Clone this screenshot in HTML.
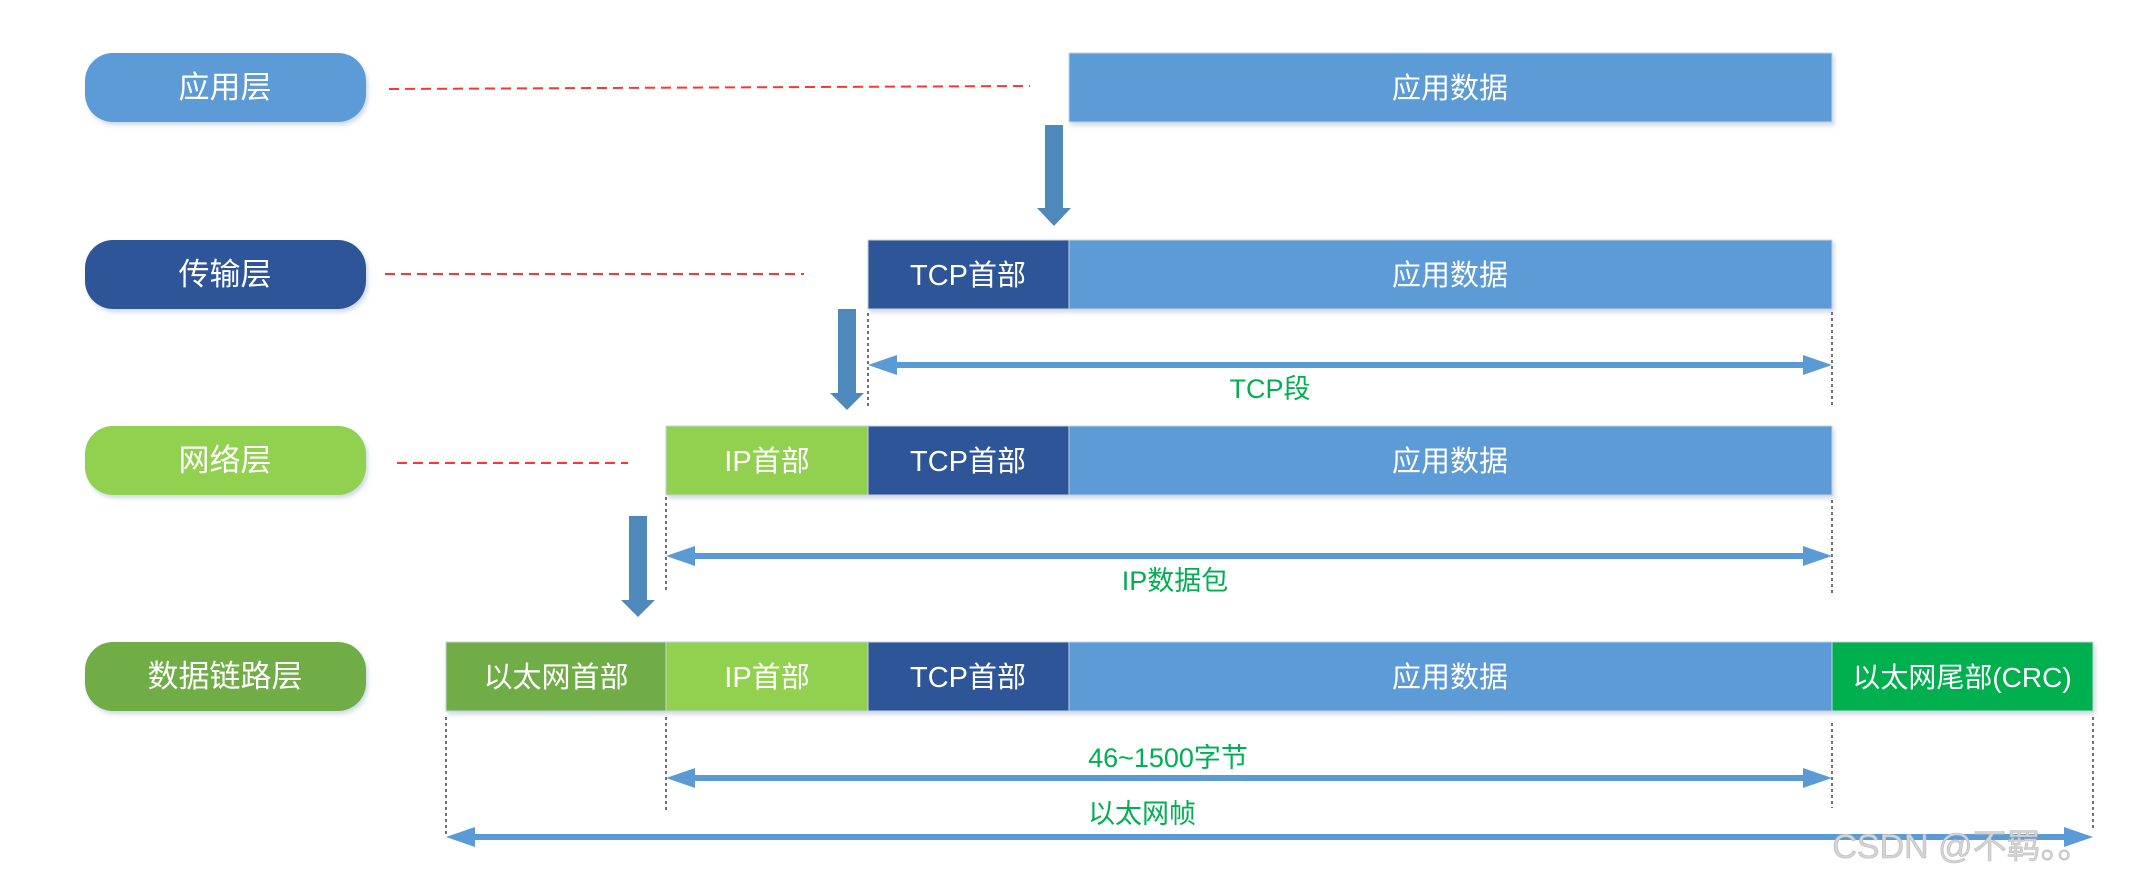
<!DOCTYPE html>
<html><head><meta charset="utf-8"><style>
html,body{margin:0;padding:0;background:#fff;}
svg{display:block;}
text{font-family:"Liberation Sans","Noto Sans CJK SC",sans-serif;}
</style></head><body>
<svg width="2144" height="879" viewBox="0 0 2144 879" xmlns="http://www.w3.org/2000/svg">
<defs>
<filter id="sh" x="-5%" y="-10%" width="110%" height="130%"><feDropShadow dx="2" dy="3" stdDeviation="2" flood-color="#9fb3cc" flood-opacity="0.5"/></filter>
</defs>
<!-- pills -->
<g filter="url(#sh)">
<rect x="85" y="53" width="281" height="69" rx="28" fill="#5b9bd5"/>
<rect x="85" y="240" width="281" height="69" rx="28" fill="#2f5597"/>
<rect x="85" y="426" width="281" height="69" rx="28" fill="#92d050"/>
<rect x="85" y="642" width="281" height="69" rx="28" fill="#70ad47"/>
</g>
<g fill="#fff" font-size="31" text-anchor="middle">
<text x="225" y="98">应用层</text>
<text x="225" y="285">传输层</text>
<text x="225" y="471">网络层</text>
<text x="225" y="687">数据链路层</text>
</g>
<!-- red dashed -->
<g stroke="#ff3333" stroke-width="2" stroke-dasharray="10,6">
<line x1="389" y1="89" x2="1030" y2="86"/>
<line x1="385" y1="274" x2="804" y2="274"/>
<line x1="397" y1="463" x2="628" y2="463"/>
</g>
<!-- boxes -->
<g filter="url(#sh)" stroke="#c9d3df" stroke-width="1">
<rect x="1069" y="53" width="763" height="69" fill="#5b9bd5"/>
<rect x="868" y="240" width="201" height="69" fill="#2f5597"/>
<rect x="1069" y="240" width="763" height="69" fill="#5b9bd5"/>
<rect x="666" y="426" width="202" height="69" fill="#92d050"/>
<rect x="868" y="426" width="201" height="69" fill="#2f5597"/>
<rect x="1069" y="426" width="763" height="69" fill="#5b9bd5"/>
<rect x="446" y="642" width="220" height="69" fill="#70ad47"/>
<rect x="666" y="642" width="202" height="69" fill="#92d050"/>
<rect x="868" y="642" width="201" height="69" fill="#2f5597"/>
<rect x="1069" y="642" width="763" height="69" fill="#5b9bd5"/>
<rect x="1832" y="642" width="261" height="69" fill="#00b050"/>
</g>
<g fill="#fff" font-size="29" text-anchor="middle">
<text x="1450" y="98">应用数据</text>
<text x="968" y="285">TCP首部</text>
<text x="1450" y="285">应用数据</text>
<text x="767" y="471">IP首部</text>
<text x="968" y="471">TCP首部</text>
<text x="1450" y="471">应用数据</text>
<text x="556" y="687">以太网首部</text>
<text x="767" y="687">IP首部</text>
<text x="968" y="687">TCP首部</text>
<text x="1450" y="687">应用数据</text>
<text x="1962" y="687" font-size="28">以太网尾部(CRC)</text>
</g>
<!-- down arrows -->
<g fill="#4f88bb">
<polygon points="1045,125 1063,125 1063,208 1071,208 1054,226 1037,208 1045,208"/>
<polygon points="838,309 856,309 856,393 864,393 847,410 830,393 838,393"/>
<polygon points="629,516 647,516 647,600 655,600 638,617 621,600 629,600"/>
</g>
<!-- dotted verticals -->
<g stroke="#444" stroke-width="1.5" stroke-dasharray="3,3">
<line x1="868" y1="313" x2="868" y2="407"/>
<line x1="1832" y1="312" x2="1832" y2="405"/>
<line x1="666" y1="497" x2="666" y2="590"/>
<line x1="1832" y1="500" x2="1832" y2="593"/>
<line x1="446" y1="717" x2="446" y2="837"/>
<line x1="666" y1="717" x2="666" y2="810"/>
<line x1="1832" y1="723" x2="1832" y2="808"/>
<line x1="2093" y1="717" x2="2093" y2="830"/>
</g>
<!-- horizontal double arrows -->
<g fill="#5b9bd5">
<rect x="896" y="362" width="908" height="6"/>
<polygon points="868,365 897,355 897,375"/><polygon points="1832,365 1803,355 1803,375"/>
<rect x="694" y="553" width="1110" height="6"/>
<polygon points="666,556 695,546 695,566"/><polygon points="1832,556 1803,546 1803,566"/>
<rect x="694" y="775" width="1110" height="6"/>
<polygon points="666,778 695,768 695,788"/><polygon points="1832,778 1803,768 1803,788"/>
<rect x="474" y="834" width="1591" height="6"/>
<polygon points="446,837 475,827 475,847"/><polygon points="2093,837 2064,827 2064,847"/>
</g>
<g fill="#00b050" font-size="27" text-anchor="middle">
<text x="1270" y="398">TCP段</text>
<text x="1175" y="590">IP数据包</text>
<text x="1168" y="767">46~1500字节</text>
<text x="1142" y="823">以太网帧</text>
</g>
<text x="1962" y="858" font-size="34" fill="#d4d4d4" stroke="#bbb" stroke-width="0.6" text-anchor="middle">CSDN @不羁。。</text>
</svg>
</body></html>
